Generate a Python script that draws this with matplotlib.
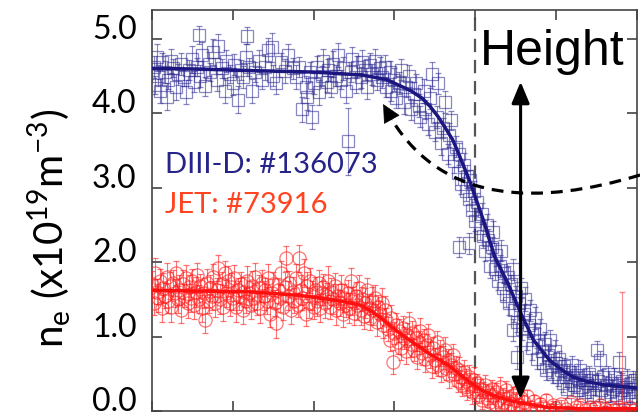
import matplotlib
matplotlib.use('Agg')
import matplotlib.pyplot as plt
import matplotlib.transforms as mtransforms
from matplotlib.path import Path
from matplotlib.patches import PathPatch

# ---------------- data ----------------
# DIII-D #136073 : (psi_N, n_e, error)
blue_pts = [
 (0.801,4.62,0.15),(0.802,4.38,0.12),(0.803,4.75,0.18),(0.804,4.50,0.14),(0.805,4.30,0.16),
 (0.806,4.68,0.12),(0.808,4.55,0.15),(0.809,4.22,0.18),(0.810,4.45,0.13),(0.812,4.70,0.16),
 (0.813,4.60,0.12),(0.815,4.35,0.17),(0.816,4.52,0.14),(0.818,4.66,0.15),(0.820,4.48,0.12),
 (0.821,4.28,0.16),(0.823,4.58,0.13),(0.825,4.72,0.18),(0.826,4.42,0.14),(0.828,4.62,0.12),
 (0.829,5.05,0.12),(0.830,4.50,0.15),(0.831,4.78,0.17),(0.833,4.36,0.13),(0.835,4.66,0.16),
 (0.836,4.55,0.12),(0.838,4.82,0.18),(0.840,4.44,0.14),(0.841,4.90,0.16),(0.843,4.60,0.13),
 (0.845,4.30,0.17),(0.846,4.70,0.15),(0.848,4.52,0.12),(0.850,4.40,0.16),(0.851,4.65,0.14),
 (0.853,4.18,0.18),(0.855,4.58,0.13),(0.856,4.48,0.15),(0.858,4.75,0.17),(0.859,5.04,0.12),
 (0.860,4.62,0.12),(0.862,4.30,0.16),(0.864,4.55,0.14),(0.866,4.70,0.15),(0.868,4.45,0.13),
 (0.870,4.62,0.17),(0.872,4.85,0.16),(0.874,4.88,0.19),(0.875,4.50,0.14),(0.877,4.40,0.15),
 (0.880,4.68,0.13),(0.882,4.56,0.16),(0.884,4.78,0.15),(0.887,4.60,0.14),(0.889,4.48,0.16),
 (0.891,4.62,0.13),(0.893,4.05,0.17),(0.895,4.35,0.15),(0.896,4.22,0.18),(0.898,4.55,0.13),
 (0.899,3.95,0.16),(0.900,4.40,0.14),(0.902,4.62,0.15),(0.903,4.28,0.17),(0.905,4.50,0.13),
 (0.906,4.70,0.16),(0.908,4.42,0.14),(0.909,4.58,0.15),(0.911,4.35,0.13),(0.912,4.66,0.17),
 (0.914,4.50,0.14),(0.915,4.78,0.16),(0.917,4.45,0.13),(0.918,4.60,0.15),(0.920,4.30,0.17),
 (0.921,3.62,0.45),(0.923,4.55,0.14),(0.924,4.72,0.16),(0.926,4.40,0.13),(0.927,4.62,0.15),
 (0.929,4.48,0.14),(0.930,4.68,0.17),(0.932,4.58,0.13),(0.933,4.35,0.16),(0.935,4.65,0.15),
 (0.936,4.52,0.14),(0.938,4.70,0.16),(0.939,4.44,0.13),(0.941,4.60,0.15),(0.942,4.48,0.14),
 (0.944,4.62,0.16),(0.945,4.35,0.13),
 (0.947,4.55,0.15),(0.948,4.30,0.14),(0.950,4.45,0.16),(0.951,4.20,0.13),(0.953,4.40,0.15),
 (0.954,4.58,0.14),(0.956,4.15,0.16),(0.957,4.35,0.13),(0.959,4.50,0.15),(0.960,4.05,0.14),
 (0.962,4.25,0.16),(0.963,4.40,0.13),(0.965,4.10,0.15),(0.966,3.95,0.14),(0.968,4.30,0.16),
 (0.969,4.05,0.13),(0.971,3.85,0.15),(0.972,4.20,0.14),(0.973,4.52,0.16),(0.975,3.75,0.13),
 (0.976,3.95,0.15),(0.977,4.40,0.14),(0.979,3.60,0.16),(0.980,3.80,0.13),(0.981,4.15,0.15),
 (0.983,3.45,0.14),(0.984,3.70,0.16),(0.985,3.90,0.13),(0.987,3.35,0.15),(0.988,3.55,0.14),
 (0.989,3.20,0.16),(0.990,2.20,0.13),(0.990,3.45,0.15),(0.991,3.05,0.14),(0.993,3.30,0.16),
 (0.994,2.95,0.13),(0.995,3.15,0.15),(0.996,2.25,0.14),(0.996,2.85,0.16),(0.997,3.10,0.13),
 (0.998,2.70,0.15),(0.999,2.95,0.14),
 (1.000,2.55,0.14),(1.001,2.80,0.13),(1.003,2.45,0.15),(1.004,2.65,0.14),(1.005,2.35,0.16),
 (1.006,2.15,0.13),(1.007,2.50,0.15),(1.008,2.30,0.14),(1.009,1.95,0.16),(1.010,2.20,0.13),
 (1.011,2.40,0.15),(1.012,1.90,0.14),(1.013,2.10,0.16),(1.014,1.75,0.13),(1.015,1.95,0.15),
 (1.016,2.15,0.14),(1.017,1.65,0.16),(1.018,1.85,0.13),(1.019,1.55,0.15),(1.020,1.80,0.14),
 (1.021,1.45,0.16),(1.022,1.70,0.13),(1.023,1.09,0.15),(1.023,1.90,0.14),(1.024,1.35,0.16),
 (1.025,1.55,0.13),(1.026,0.72,0.15),(1.026,1.20,0.14),(1.027,1.45,0.16),(1.028,1.65,0.13),
 (1.029,1.10,0.15),(1.030,1.30,0.14),(1.031,1.50,0.16),(1.032,0.95,0.13),(1.033,1.15,0.15),
 (1.034,1.35,0.14),(1.035,0.85,0.16),(1.036,1.05,0.13),(1.037,1.25,0.15),(1.038,0.70,0.14),
 (1.039,0.95,0.16),(1.040,1.10,0.13),(1.041,0.80,0.15),(1.042,0.65,0.14),(1.043,0.90,0.16),
 (1.044,0.55,0.13),(1.045,0.75,0.15),(1.046,0.95,0.14),(1.047,0.60,0.16),(1.048,0.50,0.13),
 (1.049,0.80,0.15),(1.050,0.65,0.14),
 (1.051,0.45,0.12),(1.052,0.70,0.11),(1.053,0.55,0.13),(1.054,0.38,0.12),(1.055,0.60,0.11),
 (1.056,0.45,0.13),(1.057,0.30,0.12),(1.058,0.52,0.11),(1.059,0.40,0.13),(1.060,0.62,0.12),
 (1.061,0.35,0.11),(1.062,0.48,0.13),(1.063,0.28,0.12),(1.064,0.42,0.11),(1.065,0.55,0.13),
 (1.066,0.32,0.12),(1.067,0.45,0.11),(1.068,0.25,0.13),(1.069,0.38,0.12),(1.070,0.50,0.11),
 (1.071,0.30,0.13),(1.072,0.42,0.12),(1.073,0.22,0.11),(1.074,0.35,0.13),(1.075,0.82,0.12),
 (1.076,0.40,0.11),(1.077,0.68,0.13),(1.078,0.28,0.12),(1.079,0.45,0.11),(1.080,0.20,0.13),
 (1.081,0.35,0.12),(1.082,0.50,0.11),(1.083,0.25,0.13),(1.084,0.38,0.12),(1.085,0.30,0.11),
 (1.086,0.45,0.13),(1.087,0.22,0.12),(1.088,0.35,0.11),(1.089,0.66,0.13),(1.090,0.28,0.12),
 (1.091,0.40,0.11),(1.092,0.18,0.13),(1.093,0.32,0.12),(1.094,0.45,0.11),(1.095,0.25,0.13),
 (1.096,0.38,0.12),(1.097,0.20,0.11),(1.098,0.30,0.13),(1.099,0.42,0.12),
]

# JET #73916 : (psi_N, n_e, error)
red_pts = [
 (0.800,1.70,0.18),(0.801,1.45,0.16),(0.802,1.85,0.20),(0.803,1.60,0.17),(0.804,1.52,0.19),
 (0.805,1.75,0.16),(0.806,1.38,0.18),(0.807,1.65,0.20),(0.808,1.55,0.17),(0.809,1.80,0.19),
 (0.810,1.48,0.16),(0.811,1.68,0.18),(0.812,1.40,0.20),(0.813,1.72,0.17),(0.814,1.58,0.19),
 (0.815,1.85,0.16),(0.816,1.50,0.18),(0.817,1.62,0.20),(0.818,1.35,0.17),(0.819,1.70,0.19),
 (0.820,1.55,0.16),(0.821,1.78,0.18),(0.822,1.45,0.20),(0.823,1.66,0.17),(0.824,1.52,0.19),
 (0.825,1.75,0.16),(0.826,1.42,0.18),(0.827,1.60,0.20),(0.828,1.82,0.17),(0.829,1.50,0.19),
 (0.830,1.68,0.16),(0.831,1.38,0.18),(0.832,1.58,0.20),(0.833,1.22,0.17),(0.834,1.72,0.19),
 (0.835,1.48,0.16),(0.836,1.65,0.18),(0.837,1.55,0.20),(0.838,1.80,0.17),(0.839,1.45,0.19),
 (0.840,1.62,0.16),(0.841,1.92,0.18),(0.842,1.50,0.20),(0.843,1.70,0.17),(0.844,1.40,0.19),
 (0.845,1.85,0.16),(0.846,1.58,0.18),(0.847,1.75,0.20),(0.848,1.45,0.17),(0.849,1.66,0.19),
 (0.850,1.52,0.16),(0.851,1.78,0.18),(0.852,1.40,0.20),(0.853,1.62,0.17),(0.854,1.55,0.19),
 (0.855,1.70,0.16),(0.856,1.35,0.18),(0.857,1.60,0.20),(0.858,1.48,0.17),(0.859,1.75,0.19),
 (0.860,1.58,0.16),(0.861,1.42,0.18),(0.862,1.68,0.20),(0.863,1.52,0.17),(0.864,1.80,0.19),
 (0.865,1.45,0.16),(0.866,1.65,0.18),(0.867,1.38,0.20),(0.868,1.72,0.17),(0.869,1.55,0.19),
 (0.870,1.62,0.16),(0.871,1.48,0.18),(0.872,1.78,0.20),(0.873,1.30,0.17),(0.874,1.58,0.19),
 (0.875,1.70,0.16),(0.876,1.45,0.18),(0.877,1.18,0.20),(0.878,1.62,0.17),(0.879,1.52,0.19),
 (0.880,1.85,0.16),(0.881,1.40,0.18),(0.882,1.66,0.20),(0.883,2.05,0.17),(0.884,1.55,0.19),
 (0.885,1.72,0.16),(0.886,1.35,0.18),(0.887,1.60,0.20),(0.888,1.48,0.17),(0.889,1.78,0.19),
 (0.890,1.42,0.16),(0.891,2.05,0.18),(0.892,1.62,0.20),(0.893,1.52,0.17),(0.894,1.85,0.19),
 (0.895,1.30,0.16),(0.896,1.68,0.18),(0.897,1.45,0.20),(0.898,1.75,0.17),(0.899,1.55,0.19),
 (0.900,1.40,0.16),(0.901,1.62,0.18),(0.902,1.48,0.20),(0.903,1.72,0.17),(0.904,1.38,0.19),
 (0.905,1.58,0.16),(0.906,1.66,0.18),(0.907,1.45,0.20),(0.908,1.55,0.17),(0.909,1.75,0.19),
 (0.910,1.40,0.16),(0.911,1.60,0.18),(0.912,1.50,0.20),(0.913,1.68,0.17),(0.914,1.35,0.19),
 (0.915,1.55,0.16),(0.916,1.45,0.18),(0.917,1.62,0.20),(0.918,1.30,0.17),(0.919,1.52,0.19),
 (0.920,1.42,0.16),(0.921,1.58,0.18),(0.922,1.38,0.20),(0.923,1.75,0.17),(0.924,1.48,0.19),
 (0.925,1.32,0.16),(0.926,1.55,0.18),(0.927,1.42,0.20),(0.928,1.65,0.17),(0.929,1.35,0.19),
 (0.930,1.50,0.16),(0.931,1.28,0.18),(0.932,1.45,0.20),(0.933,1.62,0.17),(0.934,1.38,0.19),
 (0.935,1.25,0.16),(0.936,1.48,0.18),(0.937,1.35,0.20),(0.938,1.52,0.17),(0.939,1.20,0.19),
 (0.940,1.40,0.16),(0.941,1.30,0.18),(0.942,1.45,0.20),(0.943,1.15,0.17),(0.944,1.35,0.19),
 (0.945,1.22,0.16),
 (0.946,1.10,0.16),(0.947,0.95,0.15),(0.948,1.25,0.17),(0.949,0.66,0.16),(0.950,1.05,0.15),
 (0.951,1.15,0.17),(0.952,0.92,0.16),(0.953,1.08,0.15),(0.954,0.85,0.17),(0.955,1.12,0.16),
 (0.956,0.98,0.15),(0.957,0.80,0.17),(0.958,1.02,0.16),(0.959,1.18,0.15),(0.960,0.90,0.17),
 (0.961,1.05,0.16),(0.962,0.82,0.15),(0.963,0.98,0.17),(0.964,0.72,0.16),(0.965,0.92,0.15),
 (0.966,1.08,0.17),(0.967,0.78,0.16),(0.968,0.95,0.15),(0.969,0.70,0.17),(0.970,0.88,0.16),
 (0.971,1.02,0.15),(0.972,0.75,0.17),(0.973,0.60,0.16),(0.974,0.85,0.15),(0.975,0.68,0.17),
 (0.976,0.92,0.16),(0.977,0.62,0.15),(0.978,0.78,0.17),(0.979,0.55,0.16),(0.980,0.72,0.15),
 (0.981,0.82,0.17),(0.982,0.58,0.16),(0.983,0.68,0.15),(0.984,0.48,0.17),(0.985,0.62,0.16),
 (0.986,0.75,0.15),(0.987,0.50,0.17),(0.988,0.58,0.16),(0.989,0.40,0.15),(0.990,0.55,0.17),
 (0.991,0.45,0.16),(0.992,0.35,0.15),(0.993,0.52,0.17),(0.994,0.40,0.16),(0.995,0.30,0.15),
 (0.996,0.45,0.17),(0.997,0.35,0.16),(0.998,0.25,0.15),(0.999,0.42,0.17),(1.000,0.30,0.16),
 (1.001,0.38,0.12),(1.002,0.22,0.11),(1.003,0.30,0.13),(1.004,0.15,0.12),(1.005,0.28,0.11),
 (1.006,0.35,0.13),(1.007,0.18,0.12),(1.008,0.25,0.11),(1.009,0.12,0.13),(1.010,0.30,0.12),
 (1.011,0.20,0.11),(1.012,0.10,0.13),(1.013,0.25,0.12),(1.014,0.15,0.11),(1.015,0.32,0.13),
 (1.016,0.08,0.12),(1.017,0.20,0.11),(1.018,0.12,0.13),(1.019,0.28,0.12),(1.020,0.05,0.11),
 (1.021,0.18,0.10),(1.022,0.10,0.09),(1.023,0.22,0.10),(1.024,0.06,0.09),(1.025,0.15,0.10),
 (1.026,0.25,0.09),(1.027,0.08,0.10),(1.028,0.18,0.09),(1.029,0.04,0.10),(1.030,0.12,0.09),
 (1.032,0.20,0.08),(1.034,0.06,0.07),(1.036,0.14,0.08),(1.038,0.03,0.07),(1.040,0.10,0.08),
 (1.042,0.05,0.07),(1.044,0.15,0.08),(1.046,0.02,0.07),(1.048,0.08,0.06),(1.050,0.04,0.05),
 (1.053,0.10,0.05),(1.056,0.03,0.04),(1.059,0.12,0.05),(1.062,0.05,0.04),(1.065,0.08,0.05),
 (1.068,0.02,0.04),(1.071,0.06,0.05),(1.074,0.04,0.04),(1.077,0.08,0.05),(1.080,0.03,0.04),
 (1.083,0.05,0.05),(1.086,0.02,0.04),(1.089,0.06,0.05),(1.092,0.03,0.04),(1.095,0.05,0.05),
 (1.098,0.02,0.04),
]
# one JET point with a very large upper error bar
red_big_x = [1.091]
red_big_y = [0.05]
red_big_lo = [0.05]
red_big_hi = [1.55]

# fitted profiles
blue_fit_x = [0.800, 0.830, 0.860, 0.900, 0.930, 0.945, 0.952, 0.960, 0.967, 0.972,
              0.977, 0.982, 0.986, 0.989, 0.992, 0.997, 1.001, 1.005, 1.012, 1.020,
              1.028, 1.036, 1.046, 1.053, 1.060, 1.070, 1.080, 1.090, 1.100]
blue_fit_y = [4.60, 4.59, 4.57, 4.55, 4.51, 4.45, 4.38, 4.30, 4.20, 4.09,
              3.95, 3.78, 3.64, 3.49, 3.33, 3.06, 2.81, 2.56, 2.07, 1.72,
              1.32, 0.95, 0.68, 0.56, 0.46, 0.39, 0.35, 0.33, 0.31]
red_fit_x = [0.800, 0.830, 0.861, 0.892, 0.916, 0.929, 0.935, 0.941, 0.947, 0.953,
             0.970, 0.983, 0.997, 1.004, 1.011, 1.020, 1.028, 1.044, 1.065, 1.100]
red_fit_y = [1.62, 1.61, 1.60, 1.55, 1.48, 1.42, 1.35, 1.26, 1.15, 1.05,
             0.79, 0.62, 0.38, 0.28, 0.21, 0.15, 0.11, 0.05, 0.03, 0.03]

y_ticks = [0.0, 1.0, 2.0, 3.0, 4.0, 5.0]
y_tick_labels = ['0.0', '1.0', '2.0', '3.0', '4.0', '5.0']
x_ticks = [0.80, 0.85, 0.90, 0.95, 1.00, 1.05, 1.10]
separatrix = 1.0

label_diiid = 'DIII-D: #136073'
label_jet = 'JET: #73916'

# ---------------- styling ----------------
BLUE = '#2a2690'
BLUE_FIT = '#1c1680'
BLUE_TXT = '#262488'
RED = '#ff1a1a'
RED_FIT = '#ff1010'
RED_TXT = '#ff4422'
SPINE = '#444444'

fig = plt.figure(figsize=(6.4, 4.16), dpi=100)
ax = fig.add_axes([152/640, 5/416, 485/640, 401/416])
ax.set_xlim(0.8, 1.1)
ax.set_ylim(0, 5.383)

bx = [p[0] for p in blue_pts]; by = [p[1] for p in blue_pts]; be = [p[2] for p in blue_pts]
rx = [p[0] for p in red_pts]; ry = [p[1] for p in red_pts]; re = [p[2] for p in red_pts]

ax.errorbar(bx, by, yerr=be, fmt='s', mfc='none', mec=BLUE, ms=8.6, mew=0.9,
            ecolor=BLUE, elinewidth=0.8, capsize=2, capthick=0.8, alpha=0.55, zorder=2)
ax.errorbar(rx, ry, yerr=re, fmt='o', mfc='none', mec=RED, ms=9.5, mew=0.9,
            ecolor=RED, elinewidth=0.8, capsize=2, capthick=0.8, alpha=0.6, zorder=3)
ax.errorbar(red_big_x, red_big_y, yerr=[red_big_lo, red_big_hi], fmt='none',
            ecolor=RED, elinewidth=0.8, capsize=2, alpha=0.5, zorder=3)

ax.plot(blue_fit_x, blue_fit_y, color=BLUE_FIT, lw=2.5, zorder=4, solid_capstyle='round')
ax.plot(red_fit_x, red_fit_y, color=RED_FIT, lw=2.5, zorder=5, solid_capstyle='round')

ax.axvline(separatrix, color='#555555', lw=1.6, dashes=(6, 3.5), zorder=1)

# axes cosmetics
for s in ax.spines.values():
    s.set_color(SPINE)
    s.set_linewidth(1.2)
ax.set_xticks(x_ticks)
ax.set_yticks(y_ticks)
ax.set_yticklabels(y_tick_labels, fontsize=23, family='Lato')
ax.tick_params(direction='in', top=True, right=True, labelbottom=False,
               length=7, width=1.2, color=SPINE, pad=11)
offset = mtransforms.ScaledTranslation(0, 0.12, fig.dpi_scale_trans)
for lab in ax.get_yticklabels():
    lab.set_transform(lab.get_transform() + offset)

ax.set_ylabel(r'n$_\mathregular{e}$ (x10$^\mathregular{19}$m$^\mathregular{-3}$)',
              fontsize=29, family='Lato')
ax.yaxis.set_label_coords(-0.162, 0.455)

# legend texts
ax.text(0.808, 3.19, label_diiid, color=BLUE_TXT, fontsize=21, family='Lato', va='baseline')
ax.text(0.808, 2.66, label_jet, color=RED_TXT, fontsize=21, family='Lato', va='baseline')

# Height annotation
ax.text(1.003, 4.64, 'Height', fontsize=36, family='Liberation Sans', va='baseline', zorder=6)
ax.annotate('', xy=(1.028, 4.42), xytext=(1.028, 0.16),
            arrowprops=dict(arrowstyle='<|-|>,head_length=0.65,head_width=0.27',
                            mutation_scale=20, lw=2.2, color='k', shrinkA=0, shrinkB=0),
            zorder=6)

# dashed curved arrow
verts = [(1.1019, 3.168), (1.040, 2.765), (0.9812, 2.765), (0.9485, 3.906)]
codes = [Path.MOVETO, Path.CURVE4, Path.CURVE4, Path.CURVE4]
ax.add_patch(PathPatch(Path(verts, codes), fill=False, lw=2.3, edgecolor='k',
                       linestyle=(0, (3.7, 2.5)), clip_on=False, zorder=6))
ax.annotate('', xy=(0.943, 4.12), xytext=(0.9485, 3.906),
            arrowprops=dict(arrowstyle='-|>,head_length=0.6,head_width=0.3',
                            mutation_scale=20, lw=0.5, color='k', shrinkA=0, shrinkB=0),
            zorder=6)

fig.savefig('out.png', dpi=100)
